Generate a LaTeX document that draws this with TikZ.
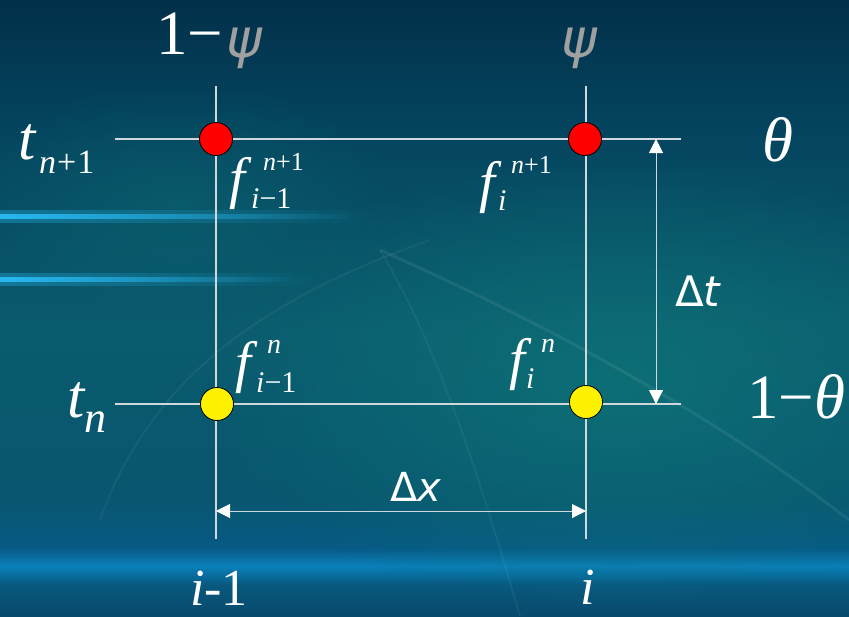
\documentclass[tikz,border=0pt]{standalone}
\usepackage{fontspec}
\setmainfont{Liberation Serif}
\newfontfamily\dvs{DejaVu Sans}
\usetikzlibrary{arrows.meta,fadings}
\definecolor{gridc}{HTML}{D0D8DE}
\definecolor{psigray}{HTML}{A0A0A0}
\definecolor{bgA}{HTML}{023049}
\definecolor{bgB}{HTML}{04435E}
\definecolor{bgC}{HTML}{0A5B6E}
\definecolor{bgD}{HTML}{08566F}
\definecolor{bgE}{HTML}{075A85}
\definecolor{bgF}{HTML}{0A80BA}
\definecolor{bgG}{HTML}{08587E}
\definecolor{bgH}{HTML}{084A6C}
\definecolor{streak}{HTML}{28B8F0}
\definecolor{tealglow}{HTML}{0E7478}
\tikzfading[name=fadeR, left color=transparent!0, right color=transparent!100]
\tikzfading[name=softglow, inner color=transparent!0, outer color=transparent!100]
\newcommand\fs[1]{\fontsize{#1}{#1}\selectfont}
\begin{document}
\begin{tikzpicture}[x=1pt,y=-1pt,
  txt/.style={text=white, inner sep=0pt, anchor=base west},
  gridline/.style={draw=gridc, line width=1.1pt},
  dimline/.style={draw=gridc, line width=1pt, {Triangle[width=14pt,length=14pt,color=white]}-{Triangle[width=14pt,length=14pt,color=white]}},
  redpt/.style={circle, draw=black, line width=0.8pt, fill=red, minimum size=33pt, inner sep=0pt},
  yelpt/.style={circle, draw=black, line width=0.8pt, fill=yellow, minimum size=33pt, inner sep=0pt}]
\useasboundingbox (0,0) rectangle (849,616);
% background
\shade[top color=bgA, bottom color=bgB] (0,0) rectangle (849,120);
\shade[top color=bgB, bottom color=bgC] (0,120) rectangle (849,330);
\shade[top color=bgC, bottom color=bgD] (0,330) rectangle (849,500);
\shade[top color=bgD, bottom color=bgE] (0,500) rectangle (849,548);
\shade[top color=bgE, bottom color=bgF] (0,548) rectangle (849,566);
\shade[top color=bgF, bottom color=bgG] (0,566) rectangle (849,585);
\shade[top color=bgG, bottom color=bgH] (0,585) rectangle (849,616);
\fill[tealglow, opacity=0.8, path fading=softglow] (620,380) ellipse (420 and 230);
\fill[tealglow, opacity=0.35, path fading=softglow] (180,200) ellipse (220 and 120);
\fill[streak, opacity=0.35, path fading=fadeR] (0,210) rectangle (380,223);
\fill[streak, path fading=fadeR] (0,214) rectangle (360,219);
\fill[streak, opacity=0.35, path fading=fadeR] (0,273) rectangle (320,286);
\fill[streak, path fading=fadeR] (0,277) rectangle (300,282);
\draw[white, opacity=0.07, line width=3pt] (380,250) .. controls (560,330) and (720,420) .. (849,520);
\draw[white, opacity=0.05, line width=2pt] (100,520) .. controls (150,380) and (260,300) .. (430,240);
\draw[white, opacity=0.05, line width=2pt] (520,616) .. controls (480,480) and (440,350) .. (380,250);
% grid
\coordinate (vLtop) at (216,86);  \coordinate (vLbot) at (216,539);
\coordinate (vRtop) at (586,86);  \coordinate (vRbot) at (586,539);
\coordinate (hTl) at (115,139);   \coordinate (hTr) at (681,139);
\coordinate (hBl) at (115,404);   \coordinate (hBr) at (681,404);
\coordinate (dtT) at (656,139);   \coordinate (dtB) at (656,404);
\coordinate (dxL) at (216,511);   \coordinate (dxR) at (586,511);
\draw[gridline] (vLtop) -- (vLbot);
\draw[gridline] (vRtop) -- (vRbot);
\draw[gridline] (hTl) -- (hTr);
\draw[gridline] (hBl) -- (hBr);
\draw[dimline] (dtT) -- (dtB);
\draw[dimline] (dxL) -- (dxR);
\node[redpt] (pTL) at (216,139) {};
\node[redpt] (pTR) at (585,139) {};
\node[yelpt] (pBL) at (217,404) {};
\node[yelpt] (pBR) at (586,402) {};
% top labels
\node[txt, font=\fs{63}] (onepsi) at (156,54) {1−};
\node[txt, font=\dvs\itshape\fs{54}, text=psigray] (psiL) at (226,57) {ψ};
\node[txt, font=\dvs\itshape\fs{54}, text=psigray] (psiR) at (561,57) {ψ};
% left labels
\node[txt, font=\itshape\fs{62}] (tA) at (18,159) {t};
\node[txt, font=\fs{34}] (tAsub) at (39,173) {\textit{n}\kern1pt+\kern1pt1};
\node[txt, font=\itshape\fs{62}] (tB) at (67,417) {t};
\node[txt, font=\itshape\fs{44}] (tBsub) at (84,432) {n};
% right labels
\node[txt, font=\itshape\fs{63}] (th) at (762,161) {θ};
\node[txt, font=\fs{63}] (omth) at (747,418) {1−\textit{θ}};
\node[txt, font=\dvs\fs{42}] (dt) at (675,306) {Δ\textit{t}};
\node[txt, font=\dvs\fs{40}] (dx) at (390,501) {Δ\textit{x}};
% bottom labels
\node[txt, font=\fs{52}] (im1) at (190,605) {\textit{i}-1};
\node[txt, font=\itshape\fs{52}] (ii) at (580,604) {i};
% f labels
\node[txt, font=\itshape\fs{57}] (fTL) at (229,197) {f};
\node[txt, font=\fs{26}] (fTLsup) at (263,170) {\textit{n}+1};
\node[txt, font=\fs{30}] (fTLsub) at (251,208) {\textit{i}−1};
\node[txt, font=\itshape\fs{57}] (fTR) at (479,201) {f};
\node[txt, font=\fs{26}] (fTRsup) at (511,173) {\textit{n}+1};
\node[txt, font=\itshape\fs{30}] (fTRsub) at (498,210) {i};
\node[txt, font=\itshape\fs{57}] (fBL) at (235,381) {f};
\node[txt, font=\itshape\fs{28}] (fBLsup) at (267,353) {n};
\node[txt, font=\fs{30}] (fBLsub) at (256,392) {\textit{i}−1};
\node[txt, font=\itshape\fs{57}] (fBR) at (509,378) {f};
\node[txt, font=\itshape\fs{28}] (fBRsup) at (541,352) {n};
\node[txt, font=\itshape\fs{30}] (fBRsub) at (526,388) {i};
\end{tikzpicture}
\end{document}
